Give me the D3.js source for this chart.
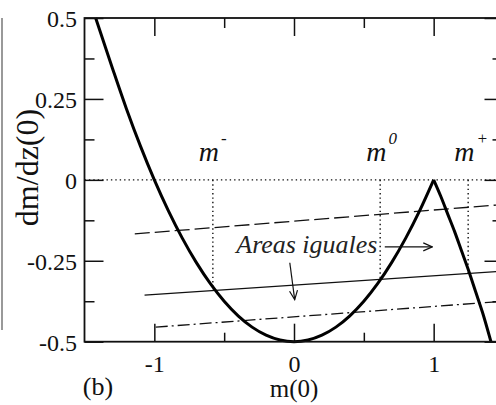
<!DOCTYPE html>
<html>
<head>
<meta charset="utf-8">
<script src="https://cdn.jsdelivr.net/npm/d3@7"></script>
<style>
  html, body { margin: 0; padding: 0; background: #fff; }
  svg { display: block; }
</style>
</head>
<body>
<svg id="chart" width="496" height="405"></svg>
<script>
// Stability curve dm/dz(0) against m(0): left and right branches meeting at the cusp m = 1
const leftBranchM = [-1.42, -1.3, -1.2, -1.1, -1.0, -0.9, -0.8, -0.7, -0.6, -0.5, -0.4, -0.3, -0.2, -0.1, 0,
                     0.1, 0.2, 0.3, 0.4, 0.5, 0.6, 0.7, 0.8, 0.9, 1.0];
const leftBranchY = [0.5, 0.345, 0.22, 0.105, 0, -0.095, -0.18, -0.255, -0.32, -0.375, -0.42, -0.455, -0.48, -0.495, -0.5,
                     -0.495, -0.48, -0.455, -0.42, -0.375, -0.32, -0.255, -0.18, -0.095, 0];
const rightBranchM = [1.0, 1.05, 1.1, 1.15, 1.2, 1.25, 1.3, 1.35, 1.41];
const rightBranchY = [0, -0.05, -0.105, -0.16, -0.22, -0.28, -0.345, -0.41, -0.5];

// Straight reference levels (endpoints in m(0), dm/dz(0))
const dashedLine  = [[-1.14, -0.167], [1.5, -0.076]];
const solidLine   = [[-1.07, -0.356], [1.5, -0.282]];
const dashDotLine = [[-0.99, -0.455], [1.5, -0.375]];

// Roots marked on the solid level
const rootNames = ["-", "0", "+"];
const rootM = [-0.581, 0.617, 1.247];

// Axis ticks
const xTickValues = [-1, 0, 1];
const xTickLabels = ["-1", "0", "1"];
const xMinorTicks = [-0.5, 0.5];
const yTickValues = [-0.5, -0.25, 0, 0.25, 0.5];
const yTickLabels = ["-0.5", "-0.25", "0", "0.25", "0.5"];
const yMinorTicks = [-0.375, -0.125, 0.125, 0.375];

// Annotation anchors (data units)
const noteText = "Areas iguales";
const noteAt = [-0.413, -0.226];
const arrowRight = [[0.65, -0.207], [0.99, -0.207]];
const arrowDown = [[-0.03, -0.256], [0.005, -0.37]];

const SERIF = "'Liberation Serif', 'Times New Roman', Times, serif";

const svg = d3.select("#chart");
const plotLeft = 84.5, plotRight = 503.5, plotTop = 18, plotBottom = 341.7;

const x = d3.scaleLinear().domain([-1.5, 1.5]).range([plotLeft, plotRight]);
const y = d3.scaleLinear().domain([-0.5, 0.5]).range([plotBottom, plotTop]);

// Edge of the neighbouring panel
svg.append("line").attr("x1", 2).attr("x2", 2).attr("y1", 18).attr("y2", 330)
  .attr("stroke", "#777").attr("stroke-width", 1.5);

const defs = svg.append("defs");
defs.append("marker").attr("id", "head")
  .attr("viewBox", "0 0 10 10").attr("refX", 9).attr("refY", 5)
  .attr("markerWidth", 10).attr("markerHeight", 10).attr("markerUnits", "userSpaceOnUse")
  .attr("orient", "auto")
  .append("path").attr("d", "M0,1 L9,5 L0,9").attr("fill", "none").attr("stroke", "#111").attr("stroke-width", 1.2);

// Axes: ticks point inward on all four sides
function styleAxis(g) {
  g.attr("font-family", null).attr("font-size", null);
  g.select(".domain").remove();
  g.selectAll(".tick line").attr("stroke", "#111").attr("stroke-width", 1.5);
  g.selectAll(".tick text")
    .style("font-family", SERIF).style("font-size", "24px").attr("fill", "#111");
}

svg.append("g").attr("transform", `translate(0,${plotBottom})`)
  .call(d3.axisBottom(x).tickValues(xTickValues).tickSize(-18).tickPadding(13)
    .tickFormat((d, i) => xTickLabels[i]))
  .call(styleAxis);
svg.append("g").attr("transform", `translate(0,${plotBottom})`)
  .call(d3.axisBottom(x).tickValues(xMinorTicks).tickSize(-9).tickFormat(""))
  .call(styleAxis);
svg.append("g").attr("transform", `translate(0,${plotTop})`)
  .call(d3.axisTop(x).tickValues(xTickValues).tickSize(-18).tickFormat(""))
  .call(styleAxis);
svg.append("g").attr("transform", `translate(0,${plotTop})`)
  .call(d3.axisTop(x).tickValues(xMinorTicks).tickSize(-10).tickFormat(""))
  .call(styleAxis);

svg.append("g").attr("transform", `translate(${plotLeft},0)`)
  .call(d3.axisLeft(y).tickValues(yTickValues).tickSize(-19).tickPadding(7.5)
    .tickFormat((d, i) => yTickLabels[i]))
  .call(styleAxis)
  .call(g => g.selectAll(".tick text").attr("dy", "0.36em"));
svg.append("g").attr("transform", `translate(${plotLeft},0)`)
  .call(d3.axisLeft(y).tickValues(yMinorTicks).tickSize(-10).tickFormat(""))
  .call(styleAxis);
svg.append("g").attr("transform", `translate(${plotRight},0)`)
  .call(d3.axisRight(y).tickValues(yTickValues).tickSize(-19).tickFormat(""))
  .call(styleAxis);
svg.append("g").attr("transform", `translate(${plotRight},0)`)
  .call(d3.axisRight(y).tickValues(yMinorTicks).tickSize(-11).tickFormat(""))
  .call(styleAxis);

// Zero level
svg.append("line").attr("x1", x(-1.5)).attr("x2", x(1.5)).attr("y1", y(0)).attr("y2", y(0))
  .attr("stroke", "#111").attr("stroke-width", 1.4).attr("stroke-dasharray", "1.4,3");

// Reference levels
const seg = d3.line().x(d => x(d[0])).y(d => y(d[1]));
svg.append("path").attr("d", seg(dashedLine)).attr("fill", "none")
  .attr("stroke", "#111").attr("stroke-width", 1.3).attr("stroke-dasharray", "15,5");
svg.append("path").attr("d", seg(solidLine)).attr("fill", "none")
  .attr("stroke", "#111").attr("stroke-width", 1.3);
svg.append("path").attr("d", seg(dashDotLine)).attr("fill", "none")
  .attr("stroke", "#111").attr("stroke-width", 1.3).attr("stroke-dasharray", "12,4,2,4");

// Vertical markers from zero down to the solid level
const solidAt = m => solidLine[0][1] + (m - solidLine[0][0]) / (solidLine[1][0] - solidLine[0][0]) * (solidLine[1][1] - solidLine[0][1]);
svg.append("g").selectAll("line").data(rootM).join("line")
  .attr("x1", d => x(d)).attr("x2", d => x(d))
  .attr("y1", y(0)).attr("y2", d => y(solidAt(d)))
  .attr("stroke", "#111").attr("stroke-width", 1.4).attr("stroke-dasharray", "1.4,3");

// Root labels m^-, m^0, m^+
const rootLabels = svg.append("g").selectAll("text").data(rootM).join("text")
  .attr("x", d => x(d) - 14).attr("y", 161)
  .style("font-family", SERIF).style("font-size", "28px").style("font-style", "italic").attr("fill", "#111");
rootLabels.append("tspan").text("m");
rootLabels.append("tspan").attr("dx", 2).attr("dy", -17).style("font-size", "17px")
  .text((d, i) => rootNames[i]);

// Curve branches
const curveLine = d3.line().x(d => x(d[0])).y(d => y(d[1])).curve(d3.curveCatmullRom);
svg.append("path").attr("d", curveLine(leftBranchM.map((m, i) => [m, leftBranchY[i]])))
  .attr("fill", "none").attr("stroke", "#000").attr("stroke-width", 3).attr("stroke-linejoin", "round");
svg.append("path").attr("d", curveLine(rightBranchM.map((m, i) => [m, rightBranchY[i]])))
  .attr("fill", "none").attr("stroke", "#000").attr("stroke-width", 3).attr("stroke-linejoin", "round");

// Annotation
svg.append("text").attr("x", x(noteAt[0])).attr("y", y(noteAt[1]))
  .style("font-family", SERIF).style("font-size", "25px").style("font-style", "italic").attr("fill", "#222")
  .attr("textLength", 141).attr("lengthAdjust", "spacingAndGlyphs")
  .text(noteText);
svg.append("path").attr("d", seg(arrowRight)).attr("fill", "none")
  .attr("stroke", "#111").attr("stroke-width", 1.2).attr("marker-end", "url(#head)");
svg.append("path").attr("d", seg(arrowDown)).attr("fill", "none")
  .attr("stroke", "#111").attr("stroke-width", 1.2).attr("marker-end", "url(#head)");

// Frame
svg.append("rect").attr("x", plotLeft).attr("y", plotTop)
  .attr("width", plotRight - plotLeft).attr("height", plotBottom - plotTop)
  .attr("fill", "none").attr("stroke", "#111").attr("stroke-width", 1.8);

// Axis titles and panel tag
svg.append("text").attr("x", x(0)).attr("y", 397).attr("text-anchor", "middle")
  .style("font-family", SERIF).style("font-size", "25px").attr("fill", "#111").text("m(0)");
svg.append("text").attr("x", 98).attr("y", 395).attr("text-anchor", "middle")
  .style("font-family", SERIF).style("font-size", "26px").attr("fill", "#111").text("(b)");
svg.append("text").attr("transform", "translate(37.5,167.5) rotate(-90)")
  .attr("text-anchor", "middle")
  .style("font-family", SERIF).style("font-size", "32px").attr("fill", "#111").text("dm/dz(0)");
</script>
</body>
</html>
